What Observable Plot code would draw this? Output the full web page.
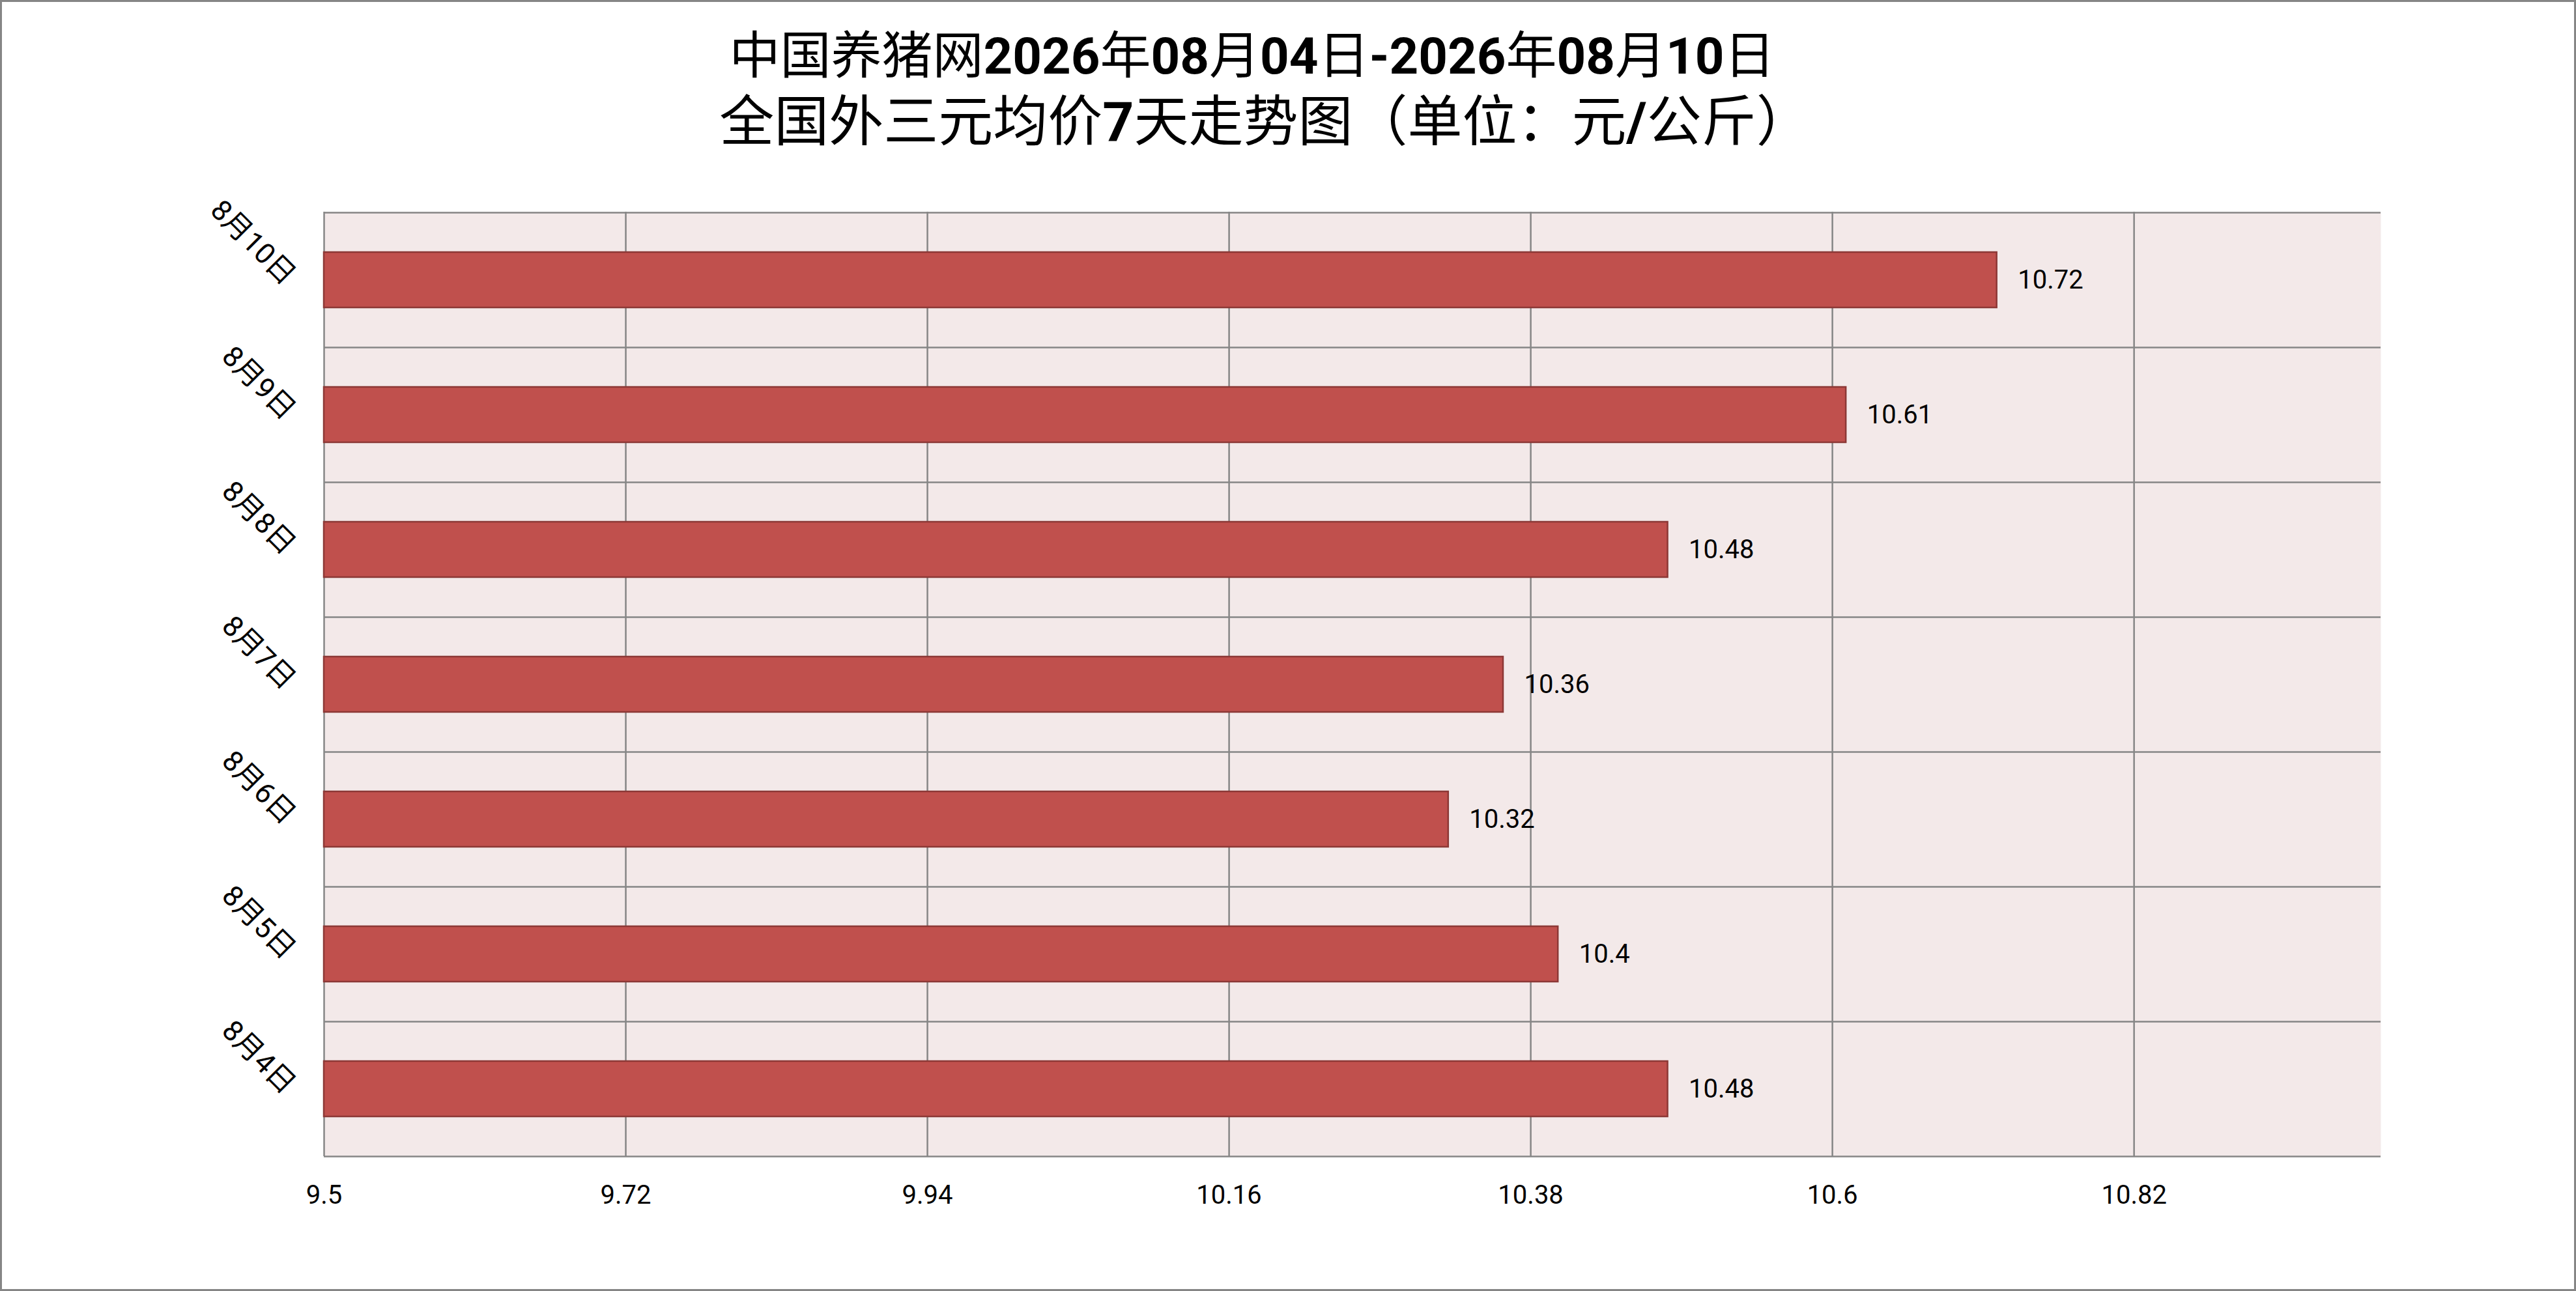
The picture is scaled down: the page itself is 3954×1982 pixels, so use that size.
<!DOCTYPE html>
<html>
<head>
<meta charset="utf-8">
<script src="https://cdn.jsdelivr.net/npm/d3@7"></script>
<script src="https://cdn.jsdelivr.net/npm/@observablehq/plot@0.6"></script>
<style>
  html, body { margin: 0; padding: 0; background: #fff; }
  #page { position: relative; width: 3954px; height: 1982px; overflow: hidden; background: #fff; }
  #border { position: absolute; left: 0; top: 0; width: 3954px; height: 1982px; box-sizing: border-box; border: 3px solid #868686; pointer-events: none; z-index: 5; }
  #title { position: relative; width: 3954px; height: 260px; box-sizing: border-box; padding-top: 36px; padding-right: 110px; text-align: center; font-family: Roboto, "Noto Sans CJK SC", sans-serif; color: #000; line-height: 101px; }
  #title .l1 { font-size: 78px; }
  #title .l2 { font-size: 84px; padding-left: 40px; }
  #title b { font-weight: bold; }
  #chart svg { display: block; }
</style>
</head>
<body>
<div id="page">
  <div id="title">
    <div class="l1">中国养猪网<b>2026</b>年<b>08</b>月<b>04</b>日<b>-2026</b>年<b>08</b>月<b>10</b>日</div>
    <div class="l2">全国外三元均价<b>7</b>天走势图（单位：元<b>/</b>公斤）</div>
  </div>
  <div id="chart"></div>
  <div id="border"></div>
</div>
<script>
// Data
const dates = ["8月4日", "8月5日", "8月6日", "8月7日", "8月8日", "8月9日", "8月10日"];
const prices = [10.48, 10.4, 10.32, 10.36, 10.48, 10.61, 10.72];
const xDomain = [9.5, 11.0];
const xTicks = [9.5, 9.72, 9.94, 10.16, 10.38, 10.6, 10.82];

const data = dates.map((d, i) => ({date: d, price: prices[i]}));
const yOrder = dates.slice().reverse();

const W = 3954, H = 1722;
const mTop = 65, mBottom = 207, mLeft = 497, mRight = 300;
const step = (H - mTop - mBottom) / dates.length;
const grid = "#868686";

const chart = Plot.plot({
  width: W,
  height: H,
  marginTop: mTop,
  marginBottom: mBottom,
  marginLeft: mLeft,
  marginRight: mRight,
  style: {fontFamily: "Roboto, 'Noto Sans CJK SC', sans-serif", fontSize: "40px", color: "#000", background: "transparent", overflow: "visible"},
  x: {domain: xDomain, label: null},
  y: {domain: yOrder, paddingInner: 0.59, paddingOuter: 0.295, label: null},
  marks: [
    Plot.frame({fill: "#F3E9E9", stroke: "none"}),
    Plot.ruleX(xTicks, {stroke: grid, strokeWidth: 2.5}),
    Plot.ruleY(yOrder, {y: d => d, dy: step / 2, stroke: grid, strokeWidth: 2.5}),
    Plot.ruleY(yOrder.slice(0, 1), {y: d => d, dy: -step / 2, stroke: grid, strokeWidth: 2.5}),
    Plot.barX(data, {y: "date", x1: () => xDomain[0], x2: "price", fill: "#C0504D", stroke: "#8C3836", strokeWidth: 2.5}),
    Plot.text(data, {y: "date", x: "price", text: d => String(d.price), dx: 32, textAnchor: "start", fontSize: 40, fill: "#000"}),
    Plot.axisX({ticks: xTicks, tickFormat: d => String(d), tickSize: 0, tickPadding: 44, fontSize: 40, label: null}),
    Plot.axisY({tickRotate: 45, tickSize: 0, tickPadding: 52, fontSize: 44, label: null})
  ]
});
document.getElementById("chart").appendChild(chart);
</script>
</body>
</html>
